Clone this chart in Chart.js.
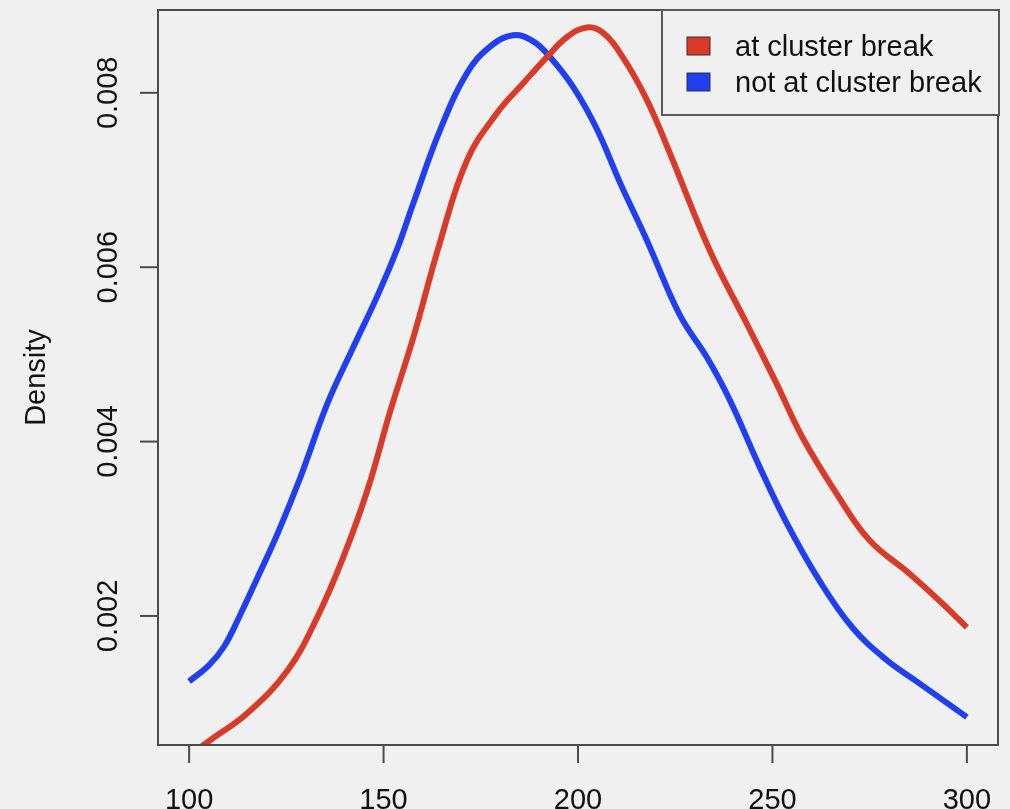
<!DOCTYPE html>
<html>
<head>
<meta charset="utf-8">
<script src="https://cdn.jsdelivr.net/npm/chart.js@4"></script>
<style>
  html, body { margin: 0; padding: 0; background: #f0f0f0; }
  #wrap { width: 1010px; height: 809px; }
</style>
</head>
<body>
<div id="wrap"><canvas id="densityChart" width="1010" height="809"></canvas></div>
<script>
// valores
const seriesNames = ['at cluster break', 'not at cluster break'];

const atBreakX = [100, 105.6, 115.1, 125.4, 133, 139.7, 145.9, 151.8, 157.7, 164.6, 171.5, 179.2, 185.9, 192, 197.2, 202.3, 206.4, 211.5, 217.7, 223.6, 233.8, 243.3, 251, 257.7, 266.4, 274.9, 285.1, 292.8, 300];
const atBreakY = [0.00040, 0.00058, 0.00089, 0.00138, 0.00199, 0.00268, 0.00345, 0.00436, 0.00520, 0.00630, 0.00723, 0.00777, 0.00811, 0.00841, 0.00864, 0.00875, 0.00869, 0.00841, 0.00792, 0.00731, 0.00620, 0.00536, 0.00467, 0.00405, 0.00341, 0.00287, 0.00249, 0.00218, 0.00187];

const notBreakX = [100, 105, 109, 113, 117.7, 122.8, 128.7, 135.6, 142.3, 148.5, 153.6, 157.7, 164.6, 171.5, 177.4, 183.3, 188.5, 192.8, 198.7, 204.9, 210.8, 217.7, 226.2, 233.1, 239, 246.7, 253.6, 262, 270.5, 279.2, 287.7, 300];
const notBreakY = [0.00125, 0.00143, 0.00165, 0.00200, 0.00245, 0.00295, 0.00360, 0.00444, 0.00509, 0.00568, 0.00622, 0.00674, 0.00758, 0.00823, 0.00853, 0.00866, 0.00859, 0.00841, 0.00807, 0.00758, 0.00697, 0.00631, 0.00545, 0.00497, 0.00448, 0.00371, 0.00307, 0.00241, 0.00187, 0.00150, 0.00123, 0.00084];

const xTicks = [100, 150, 200, 250, 300];
const yTicks = [0.002, 0.004, 0.006, 0.008];
const yTickLabels = ['0.002', '0.004', '0.006', '0.008'];
const yTitle = 'Density';

const redColor = '#d83b2a';
const blueColor = '#1f3ff0';

function toPoints(xs, ys) {
    return xs.map((x, i) => ({ x: x, y: ys[i] }));
}

// ejes, caja y leyenda al estilo R
const rAxesPlugin = {
    id: 'rAxes',
    afterDraw(chart) {
        const c = chart.ctx;
        const area = chart.chartArea;
        const xs = chart.scales.x;
        const ys = chart.scales.y;
        c.save();
        c.strokeStyle = '#4a4a4a';
        c.lineWidth = 2;
        c.strokeRect(area.left, area.top, area.right - area.left, area.bottom - area.top);

        c.fillStyle = '#111';
        c.font = '29px "Liberation Sans", Arial, sans-serif';

        // eje x
        c.textAlign = 'center';
        c.textBaseline = 'alphabetic';
        xTicks.forEach(v => {
            const px = xs.getPixelForValue(v);
            c.beginPath();
            c.moveTo(px, area.bottom);
            c.lineTo(px, area.bottom + 18);
            c.stroke();
            c.fillText(String(v), px, 809);
        });

        // eje y
        yTicks.forEach((v, i) => {
            const py = ys.getPixelForValue(v);
            c.beginPath();
            c.moveTo(area.left, py);
            c.lineTo(area.left - 18, py);
            c.stroke();
            c.save();
            c.translate(117, py);
            c.rotate(-Math.PI / 2);
            c.fillText(yTickLabels[i], 0, 0);
            c.restore();
        });

        c.save();
        c.translate(45, (area.top + area.bottom) / 2);
        c.rotate(-Math.PI / 2);
        c.fillText(yTitle, 0, 0);
        c.restore();

        // leyenda
        const lx = 662, ly = 10, lw = 337, lh = 105;
        c.fillStyle = '#f0f0f0';
        c.fillRect(lx, ly, lw, lh);
        c.strokeStyle = '#5a5a5a';
        c.strokeRect(lx, ly, lw, lh);
        c.font = '29px "Liberation Sans", Arial, sans-serif';
        c.textAlign = 'left';
        chart.data.datasets.forEach((ds, i) => {
            const rowY = 46 + i * 36;
            c.fillStyle = ds.borderColor;
            c.fillRect(687, rowY - 9, 23, 18);
            c.strokeStyle = '#333';
            c.lineWidth = 1;
            c.strokeRect(687, rowY - 9, 23, 18);
            c.fillStyle = '#111';
            c.textBaseline = 'middle';
            c.fillText(ds.label, 735, rowY + 2);
        });
        c.restore();
    }
};

const ctxDensity = document.getElementById('densityChart').getContext('2d');
const densityChart = new Chart(ctxDensity, {
    type: 'line',
    data: {
        datasets: [{
            label: seriesNames[0],
            data: toPoints(atBreakX, atBreakY),
            borderColor: redColor,
            borderWidth: 6,
            pointRadius: 0,
            tension: 0.4,
            clip: 0
        }, {
            label: seriesNames[1],
            data: toPoints(notBreakX, notBreakY),
            borderColor: blueColor,
            borderWidth: 6,
            pointRadius: 0,
            tension: 0.4,
            clip: 0
        }]
    },
    options: {
        responsive: false,
        animation: false,
        layout: {
            padding: { left: 158, right: 12, top: 10, bottom: 64 }
        },
        plugins: {
            legend: { display: false },
            tooltip: { enabled: false }
        },
        scales: {
            x: { type: 'linear', min: 92, max: 308, display: false },
            y: { type: 'linear', min: 0.00052, max: 0.00895, display: false }
        }
    },
    plugins: [rAxesPlugin]
});
</script>
</body>
</html>
